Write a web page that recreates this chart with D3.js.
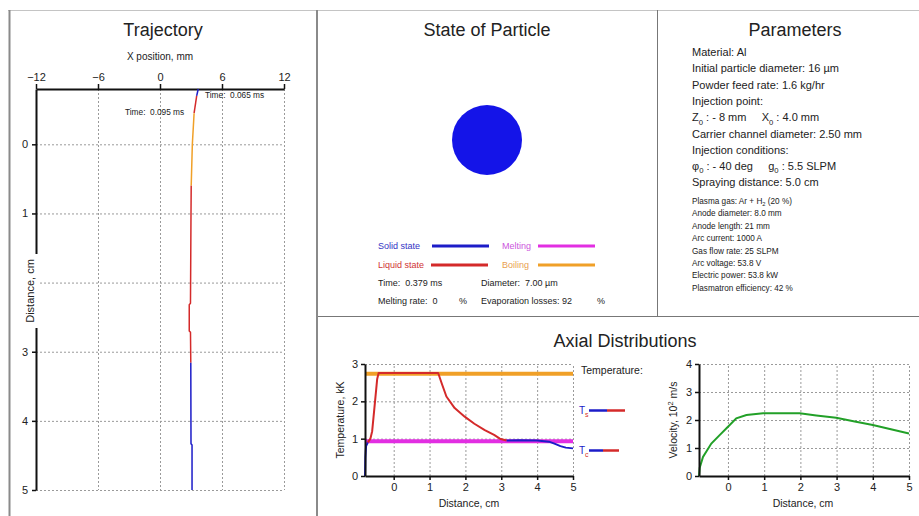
<!DOCTYPE html>
<html>
<head>
<meta charset="utf-8">
<script src="https://cdn.jsdelivr.net/npm/d3@7"></script>
<style>
  body { margin: 0; background: #fff; }
  text { font-family: Arial, "Liberation Sans", sans-serif; fill: #222; white-space: pre; }
</style>
</head>
<body>
<svg id="chart" width="919" height="516"></svg>
<script>
// Particle trajectory: axial distance (cm), radial X position (mm), state of each segment
const trajDist  = [-0.8, -0.7, -0.45, 0, 0.6, 1, 2.3, 2.32, 2.7, 2.72, 3.16, 4.33, 4.35, 5];
const trajX     = [3.7, 3.55, 3.3, 3.13, 3.02, 3.0, 2.95, 2.83, 2.83, 2.95, 2.98, 3.0, 3.1, 3.1];
const trajState = ["solid", "liquid", "boiling", "boiling", "liquid", "liquid", "liquid",
                   "liquid", "liquid", "liquid", "solid", "solid", "solid"];
const trajXTicks = [-12, -6, 0, 6, 12];
const trajYTicks = [0, 1, 2, 3, 4, 5];

// Particle temperature along the axis (kK)
const tempDist = [-0.8, -0.79, -0.77, -0.72, -0.65, -0.6, -0.52, -0.46, -0.42, 0.5, 1.24, 1.35,
                  1.47, 1.7, 1.98, 2.25, 2.54, 2.8, 2.96, 3.15, 3.5, 4.0, 4.33, 4.5, 4.65, 4.8, 5];
const tempVal  = [0, 0.5, 0.8, 0.9, 1.0, 1.2, 2.0, 2.6, 2.76, 2.76, 2.76, 2.45,
                  2.13, 1.82, 1.59, 1.4, 1.23, 1.1, 1.0, 0.95, 0.96, 0.95, 0.92, 0.86, 0.8, 0.76, 0.74];
const tempState = ["solid", "solid", "solid",
                   "liquid", "liquid", "liquid", "liquid", "liquid", "liquid", "liquid", "liquid",
                   "liquid", "liquid", "liquid", "liquid", "liquid", "liquid", "liquid", "liquid",
                   "solid", "solid", "solid", "solid", "solid", "solid", "solid"];
const meltingTemp = 0.93;
const boilingTemp = 2.74;
const tempTicks = [0, 1, 2, 3];

// Particle velocity along the axis (10^2 m/s)
const velDist = [-0.8, -0.78, -0.69, -0.46, -0.23, 0, 0.23, 0.51, 0.97, 1.5, 1.98, 2.44, 2.99, 3.5, 4.0, 4.5, 5];
const velVal  = [0, 0.3, 0.68, 1.16, 1.46, 1.76, 2.06, 2.18, 2.24, 2.24, 2.24, 2.16, 2.08, 1.95, 1.82, 1.67, 1.52];
const velTicks = [0, 1, 2, 3, 4];
const distTicks = [0, 1, 2, 3, 4, 5];

// Parameters panel text; {sub: ...} parts are subscripts
const paramLines = [
  ["Material: Al"],
  ["Initial particle diameter: 16 \u00b5m"],
  ["Powder feed rate: 1.6 kg/hr"],
  ["Injection point:"],
  ["Z", {sub: "0"}, " : - 8 mm     X", {sub: "0"}, " : 4.0 mm"],
  ["Carrier channel diameter: 2.50 mm"],
  ["Injection conditions:"],
  ["\u03c6", {sub: "0"}, " : - 40 deg     g", {sub: "0"}, " : 5.5 SLPM"],
  ["Spraying distance: 5.0 cm"]
];
const torchLines = [
  ["Plasma gas: Ar + H", {sub: "2"}, " (20 %)"],
  ["Anode diameter: 8.0 mm"],
  ["Anode length: 21 mm"],
  ["Arc current: 1000 A"],
  ["Gas flow rate: 25 SLPM"],
  ["Arc voltage: 53.8 V"],
  ["Electric power: 53.8 kW"],
  ["Plasmatron efficiency: 42 %"]
];

const stateColor = { solid: "#1c1cc8", liquid: "#d42a2a", melting: "#e22ee2", boiling: "#f0a028" };

const svg = d3.select("#chart");
const font = 'Arial, "Liberation Sans", sans-serif';
const intFmt = d3.format("d");

// ---- panel frames ----
const frame = svg.append("g");
[
  [8, 10.5, 919, 10.5, "#c4c4c4", 1],
  [9.5, 10, 9.5, 516, "#8a8a8a", 2],
  [317, 10, 317, 516, "#8a8a8a", 2],
  [657.5, 10, 657.5, 316, "#777", 1],
  [318, 316.5, 919, 316.5, "#777", 1]
].forEach(([x1, y1, x2, y2, c, w]) => {
  frame.append("line").attr("x1", x1).attr("y1", y1).attr("x2", x2).attr("y2", y2)
    .attr("stroke", c).attr("stroke-width", w);
});

function title(x, y, txt) {
  svg.append("text").attr("x", x).attr("y", y).attr("text-anchor", "middle")
    .attr("font-size", 18).text(txt);
}

// Draw a polyline whose colour follows the particle state of each segment
function statePath(g, xs, ys, states, sx, sy, width) {
  let start = 0;
  for (let i = 1; i <= states.length; i++) {
    if (i === states.length || states[i] !== states[start]) {
      const pts = d3.range(start, i + 1).map(k => [sx(xs[k]), sy(ys[k])]);
      g.append("path").attr("d", d3.line()(pts)).attr("fill", "none")
        .attr("stroke", stateColor[states[start]]).attr("stroke-width", width)
        .attr("stroke-linejoin", "round");
      start = i;
    }
  }
}

function grid(g, xs, ys, sx, sy) {
  const [x0, x1] = sx.range(), [y0, y1] = sy.range();
  g.selectAll(".gx").data(xs).join("line").attr("class", "gx")
    .attr("x1", d => sx(d) + 0.5).attr("x2", d => sx(d) + 0.5)
    .attr("y1", y0).attr("y2", y1);
  g.selectAll(".gy").data(ys).join("line").attr("class", "gy")
    .attr("y1", d => sy(d) + 0.5).attr("y2", d => sy(d) + 0.5)
    .attr("x1", x0).attr("x2", x1);
  g.selectAll("line").attr("stroke", "#9a9a9a").attr("stroke-dasharray", "2,2");
}

function styleAxis(a, size) {
  a.select(".domain").attr("stroke", "#111").attr("stroke-width", 2);
  a.selectAll(".tick line").attr("stroke", "#111").attr("stroke-width", 1.5);
  a.selectAll("text").attr("font-size", size).attr("font-family", font).attr("fill", "#333");
}

// ---- Trajectory ----
title(163, 36, "Trajectory");
svg.append("text").attr("x", 160).attr("y", 60).attr("text-anchor", "middle")
  .attr("font-size", 10).text("X position, mm");

const xT = d3.scaleLinear([-12, 12], [36, 284]);
const yT = d3.scaleLinear([-0.8, 5], [89, 490]);

grid(svg.append("g"), trajXTicks.slice(1), trajYTicks, xT, yT);

const axT = svg.append("g").attr("transform", "translate(0,89)")
  .call(d3.axisTop(xT).tickValues(trajXTicks).tickFormat(intFmt)
    .tickSize(5).tickPadding(3).tickSizeOuter(0));
styleAxis(axT, 11);
const ayT = svg.append("g").attr("transform", "translate(36,0)")
  .call(d3.axisLeft(yT).tickValues(trajYTicks).tickFormat(intFmt)
    .tickSize(4).tickPadding(4).tickSizeOuter(0));
styleAxis(ayT, 11);

// X position runs across, distance runs down
statePath(svg.append("g"), trajX, trajDist, trajState, xT, yT, 1.5);

svg.append("text").attr("x", 205).attr("y", 98).attr("font-size", 8.3).text("Time:  0.065 ms");
svg.append("text").attr("x", 125).attr("y", 115).attr("font-size", 8.3).text("Time:  0.095 ms");

svg.append("rect").attr("x", 22).attr("y", 254).attr("width", 17).attr("height", 74).attr("fill", "#fff");
svg.append("text").attr("transform", "translate(34,291) rotate(-90)").attr("text-anchor", "middle")
  .attr("font-size", 11).text("Distance, cm");

// ---- State of Particle ----
title(487, 36, "State of Particle");
svg.append("circle").attr("cx", 487).attr("cy", 140).attr("r", 35).attr("fill", "#1414e8");

const legendItems = [
  ["Solid state", "solid", 378, 432, 249],
  ["Melting", "melting", 502, 538, 249],
  ["Liquid state", "liquid", 378, 431, 268],
  ["Boiling", "boiling", 502, 538, 268]
];
const legendText = { solid: "#3434c4", liquid: "#d03434", melting: "#cc55dd", boiling: "#e8a050" };
legendItems.forEach(([label, st, tx, lx, y]) => {
  svg.append("text").attr("x", tx).attr("y", y).attr("font-size", 9)
    .style("fill", legendText[st]).text(label);
  svg.append("line").attr("x1", lx).attr("x2", lx + 57).attr("y1", y - 3).attr("y2", y - 3)
    .attr("stroke", stateColor[st]).attr("stroke-width", 3);
});
[
  [378, 286, "Time:  0.379 ms"],
  [481, 286, "Diameter:  7.00 \u00b5m"],
  [378, 304, "Melting rate:  0"],
  [459, 304, "%"],
  [481, 304, "Evaporation losses: 92"],
  [597, 304, "%"]
].forEach(([x, y, t]) => svg.append("text").attr("x", x).attr("y", y).attr("font-size", 9).text(t));

// ---- Parameters ----
title(795, 36, "Parameters");

function richLine(x, y, size, parts) {
  const t = svg.append("text").attr("x", x).attr("y", y).attr("font-size", size);
  let shift = 0;
  parts.forEach(p => {
    if (typeof p === "string") {
      t.append("tspan").attr("dy", -shift).text(p);
      shift = 0;
    } else {
      shift = size * 0.3;
      t.append("tspan").attr("dy", shift).attr("font-size", size * 0.7).text(p.sub);
    }
  });
}
paramLines.forEach((ln, i) => richLine(692, 56 + i * 16.3, 11, ln));
torchLines.forEach((ln, i) => richLine(692, 204 + i * 12.4, 8.2, ln));

// ---- Axial Distributions ----
title(625, 347, "Axial Distributions");

// Temperature chart
const xA = d3.scaleLinear([-0.8, 5], [365, 573]);
const yA = d3.scaleLinear([0, 3], [476, 364]);
grid(svg.append("g"), distTicks, tempTicks.slice(1), xA, yA);

const thr = svg.append("g");
[[boilingTemp, stateColor.boiling], [meltingTemp, stateColor.melting]].forEach(([v, c]) => {
  thr.append("line").attr("x1", xA(-0.8)).attr("x2", xA(5)).attr("y1", yA(v)).attr("y2", yA(v))
    .attr("stroke", c).attr("stroke-width", 4);
});
statePath(svg.append("g"), tempDist, tempVal, tempState, xA, yA, 2);

const axA = svg.append("g").attr("transform", "translate(0,476)")
  .call(d3.axisBottom(xA).tickValues(distTicks).tickFormat(intFmt)
    .tickSize(4).tickPadding(3).tickSizeOuter(0));
styleAxis(axA, 11);
const ayA = svg.append("g").attr("transform", "translate(365,0)")
  .call(d3.axisLeft(yA).tickValues(tempTicks).tickFormat(intFmt)
    .tickSize(4).tickPadding(3).tickSizeOuter(0));
styleAxis(ayA, 11);

svg.append("text").attr("x", 469).attr("y", 507).attr("text-anchor", "middle")
  .attr("font-size", 10.5).text("Distance, cm");
svg.append("text").attr("transform", "translate(344,420) rotate(-90)").attr("text-anchor", "middle")
  .attr("font-size", 10.5).text("Temperature, kK");

// temperature legend
svg.append("text").attr("x", 581).attr("y", 374).attr("font-size", 10.5).text("Temperature:");
[["s", 414, 607, 625], ["c", 454, 603, 619]].forEach(([s, y, mid, end]) => {
  const t = svg.append("text").attr("x", 579).attr("y", y).attr("font-size", 10);
  t.append("tspan").style("fill", stateColor.solid).text("T");
  t.append("tspan").attr("dy", 3).attr("font-size", 7).style("fill", stateColor.liquid).text(s);
  svg.append("line").attr("x1", 589).attr("x2", mid).attr("y1", y - 3.5).attr("y2", y - 3.5)
    .attr("stroke", stateColor.solid).attr("stroke-width", 2.5);
  svg.append("line").attr("x1", mid).attr("x2", end).attr("y1", y - 3.5).attr("y2", y - 3.5)
    .attr("stroke", stateColor.liquid).attr("stroke-width", 2.5);
});

// Velocity chart
const xV = d3.scaleLinear([-0.8, 5], [699, 909]);
const yV = d3.scaleLinear([0, 4], [476, 364]);
grid(svg.append("g"), distTicks, velTicks.slice(1), xV, yV);

svg.append("path")
  .attr("d", d3.line().x(d => xV(d[0])).y(d => yV(d[1]))(d3.zip(velDist, velVal)))
  .attr("fill", "none").attr("stroke", "#22a028").attr("stroke-width", 2);

const axV = svg.append("g").attr("transform", "translate(0,476)")
  .call(d3.axisBottom(xV).tickValues(distTicks).tickFormat(intFmt)
    .tickSize(4).tickPadding(3).tickSizeOuter(0));
styleAxis(axV, 11);
const ayV = svg.append("g").attr("transform", "translate(699,0)")
  .call(d3.axisLeft(yV).tickValues(velTicks).tickFormat(intFmt)
    .tickSize(4).tickPadding(3).tickSizeOuter(0));
styleAxis(ayV, 11);

svg.append("text").attr("x", 803).attr("y", 507).attr("text-anchor", "middle")
  .attr("font-size", 10.5).text("Distance, cm");
const vl = svg.append("text").attr("transform", "translate(677,420) rotate(-90)")
  .attr("text-anchor", "middle").attr("font-size", 10.5);
vl.append("tspan").text("Velocity, 10");
vl.append("tspan").attr("dy", -4).attr("font-size", 7.5).text("2");
vl.append("tspan").attr("dy", 4).text(" m/s");
</script>
</body>
</html>
